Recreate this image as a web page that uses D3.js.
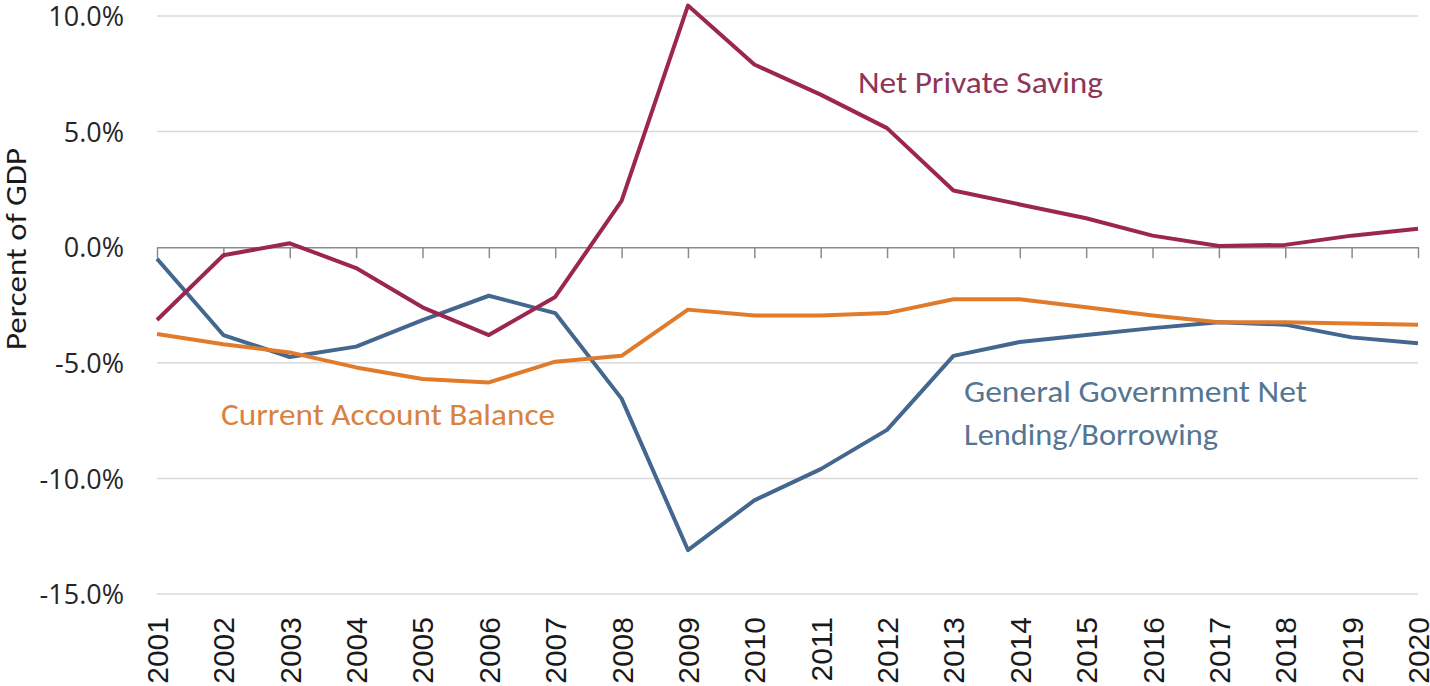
<!DOCTYPE html>
<html>
<head>
<meta charset="utf-8">
<script src="https://cdn.jsdelivr.net/npm/d3@7"></script>
<style>
  html, body { margin: 0; padding: 0; background: #fff; }
  svg { display: block; }
</style>
</head>
<body>
<svg id="chart" width="1430" height="686"></svg>
<script>
// Sectoral balances, percent of GDP
const years = ["2001","2002","2003","2004","2005","2006","2007","2008","2009","2010",
               "2011","2012","2013","2014","2015","2016","2017","2018","2019","2020"];

const netPrivateSaving = [-3.15, -0.35, 0.17, -0.9, -2.6, -3.8, -2.15, 2.0, 10.45, 7.9,
                          6.6, 5.15, 2.45, 1.85, 1.25, 0.5, 0.05, 0.1, 0.5, 0.8];

const currentAccount = [-3.75, -4.2, -4.55, -5.2, -5.7, -5.85, -4.95, -4.7, -2.7, -2.95,
                        -2.95, -2.85, -2.25, -2.25, -2.6, -2.95, -3.25, -3.25, -3.3, -3.35];

const govNetLending = [-0.5, -3.8, -4.75, -4.3, -3.15, -2.1, -2.85, -6.55, -13.1, -10.95,
                       -9.6, -7.9, -4.7, -4.1, -3.8, -3.5, -3.25, -3.35, -3.9, -4.15];

const yTicks = [10, 5, 0, -5, -10, -15];

const series = [
  { name: "General Government Net Lending/Borrowing", values: govNetLending, color: "#44678f" },
  { name: "Current Account Balance", values: currentAccount, color: "#e07b2c" },
  { name: "Net Private Saving", values: netPrivateSaving, color: "#9c2652" }
];

const svg = d3.select("#chart");
const x = d3.scalePoint().domain(years).range([157, 1418]);
const y = d3.scaleLinear().domain([-15, 10]).range([594, 16]);

const labelFont = "Carlito, Calibri, Lato, 'Open Sans', sans-serif";

// horizontal gridlines
svg.append("g")
  .selectAll("line")
  .data(yTicks.filter(d => d !== 0))
  .join("line")
  .attr("x1", x.range()[0]).attr("x2", x.range()[1])
  .attr("y1", d => y(d)).attr("y2", d => y(d))
  .attr("stroke", "#d9d9d9").attr("stroke-width", 1.5);

// value axis labels
const yAxis = svg.append("g")
  .attr("transform", "translate(124,0)")
  .call(d3.axisLeft(y).tickValues(yTicks).tickSize(0).tickPadding(0)
        .tickFormat(d => d.toFixed(1) + "%"));
yAxis.select(".domain").remove();
yAxis.selectAll("text")
  .attr("font-family", "'Open Sans', sans-serif")
  .attr("font-size", 27)
  .attr("dy", "0.36em")
  .attr("fill", "#262626");

// zero line with category ticks
const xAxis = svg.append("g")
  .attr("transform", `translate(0,${y(0)})`)
  .call(d3.axisBottom(x).tickSize(11).tickSizeOuter(0).tickPadding(0));
xAxis.select(".domain").attr("stroke", "#8c8c8c").attr("stroke-width", 1.5);
xAxis.selectAll(".tick line").attr("stroke", "#8c8c8c").attr("stroke-width", 1.5);
xAxis.selectAll(".tick text").remove();

// year labels along the bottom
svg.append("g")
  .selectAll("text")
  .data(years)
  .join("text")
  .attr("transform", d => `translate(${x(d) + 11},617) rotate(-90)`)
  .attr("text-anchor", "end")
  .attr("font-family", "'Liberation Sans', Arial, sans-serif")
  .attr("font-size", 30)
  .attr("fill", "#1a1a1a")
  .text(d => d);

// axis title
svg.append("text")
  .attr("transform", "translate(26,249) rotate(-90)")
  .attr("text-anchor", "middle")
  .attr("font-family", labelFont)
  .attr("font-size", 29)
  .attr("fill", "#1a1a1a")
  .attr("textLength", 202)
  .attr("lengthAdjust", "spacingAndGlyphs")
  .text("Percent of GDP");

// series lines
const line = d3.line()
  .x((d, i) => x(years[i]))
  .y(d => y(d));

svg.append("g")
  .selectAll("path")
  .data(series)
  .join("path")
  .attr("d", d => line(d.values))
  .attr("fill", "none")
  .attr("stroke", d => d.color)
  .attr("stroke-width", 4)
  .attr("stroke-linejoin", "round");

// direct series labels
const labels = [
  { lines: ["Net Private Saving"], x: 858, y: 93, width: [245], color: "#8e3558" },
  { lines: ["Current Account Balance"], x: 221, y: 425, width: [334], color: "#d9823f" },
  { lines: ["General Government Net", "Lending/Borrowing"], x: 964, y: 402, width: [343, 254], color: "#557693" }
];

labels.forEach(l => {
  l.lines.forEach((t, i) => {
    svg.append("text")
      .attr("x", l.x)
      .attr("y", l.y + i * 43)
      .attr("font-family", labelFont)
      .attr("font-size", 30)
      .attr("fill", l.color)
      .attr("textLength", l.width[i])
      .attr("lengthAdjust", "spacingAndGlyphs")
      .text(t);
  });
});
</script>
</body>
</html>
